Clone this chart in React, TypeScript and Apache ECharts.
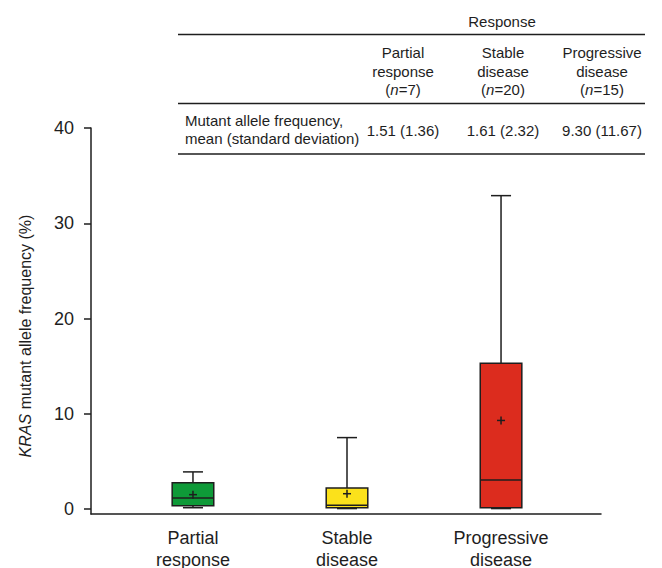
import React, { useEffect, useRef } from "react";
import * as echarts from "echarts";

const categories = ["Partial\nresponse", "Stable\ndisease", "Progressive\ndisease"];
const boxMin = [0.14, 0.05, 0.05];
const boxQ1 = [0.35, 0.14, 0.14];
const boxMedian = [1.15, 0.39, 3.04];
const boxQ3 = [2.76, 2.2, 15.3];
const boxMax = [3.9, 7.5, 32.9];
const boxMean = [1.51, 1.61, 9.3];
const boxColors = ["#0e9a38", "#fbe11b", "#dc2c1e"];

const yTicks = [0, 10, 20, 30, 40];

const tableTitle = "Response";
const tableGroups = ["Partial\nresponse", "Stable\ndisease", "Progressive\ndisease"];
const tableN = [7, 20, 15];
const tableRowLabel = "Mutant allele frequency,\nmean (standard deviation)";
const tableMeanSd = ["1.51 (1.36)", "1.61 (2.32)", "9.30 (11.67)"];

const FONT = "'Liberation Sans', Arial, Helvetica, sans-serif";
const INK = "#1e1e1e";

export default function App() {
  const ref = useRef<HTMLDivElement>(null);

  useEffect(() => {
    document.body.style.margin = "0";
    if (!ref.current) return;
    const chart = echarts.init(ref.current, null, { renderer: "svg" });

    const data = categories.map((_, i) => [
      i,
      boxMin[i],
      boxQ1[i],
      boxMedian[i],
      boxQ3[i],
      boxMax[i],
      boxMean[i],
    ]);

    const colX = [403, 503, 602];
    const tableGraphics: any[] = [
      {
        type: "text",
        x: 502,
        y: 21,
        style: { text: tableTitle, font: `15px ${FONT}`, fill: INK, textAlign: "center", textVerticalAlign: "middle" },
      },
      { type: "line", shape: { x1: 178, y1: 34.5, x2: 645, y2: 34.5 }, style: { stroke: INK, lineWidth: 1.3 } },
      { type: "line", shape: { x1: 178, y1: 103.5, x2: 645, y2: 103.5 }, style: { stroke: INK, lineWidth: 1.3 } },
      { type: "line", shape: { x1: 178, y1: 154, x2: 645, y2: 154 }, style: { stroke: INK, lineWidth: 1.3 } },
      {
        type: "text",
        x: 185,
        y: 129,
        style: {
          text: tableRowLabel,
          fontSize: 15,
          fontFamily: FONT,
          lineHeight: 18,
          fill: INK,
          textAlign: "left",
          textVerticalAlign: "middle",
        },
      },
    ];
    tableGroups.forEach((g, i) => {
      tableGraphics.push({
        type: "text",
        x: colX[i],
        y: 71,
        style: {
          text: g + "\n({i|n}=" + tableN[i] + ")",
          fontSize: 15,
          fontFamily: FONT,
          lineHeight: 18.5,
          fill: INK,
          textAlign: "center",
          textVerticalAlign: "middle",
          rich: { i: { fontStyle: "italic", fontSize: 15, fontFamily: FONT, fill: INK, lineHeight: 18.5 } },
        },
      });
      tableGraphics.push({
        type: "text",
        x: colX[i],
        y: 130,
        style: {
          text: tableMeanSd[i],
          fontSize: 15,
          fontFamily: FONT,
          fill: INK,
          textAlign: "center",
          textVerticalAlign: "middle",
        },
      });
    });

    chart.setOption({
      animation: false,
      backgroundColor: "#ffffff",
      textStyle: { fontFamily: FONT },
      grid: { left: 91, right: 61, top: 128, bottom: 54, containLabel: false, outerBoundsMode: "none" },
      xAxis: {
        type: "value",
        min: -0.662,
        max: 2.649,
        splitLine: { show: false },
        axisLine: { show: true, onZero: false, lineStyle: { color: INK, width: 1.5 } },
        axisTick: { show: false },
        axisLabel: {
          customValues: [0, 1, 2],
          formatter: (v: number) => categories[Math.round(v)] ?? "",
          fontSize: 18,
          lineHeight: 22,
          color: INK,
          margin: 13,
          fontFamily: FONT,
        },
      },
      yAxis: {
        type: "value",
        min: -0.52,
        max: 40,
        splitLine: { show: false },
        axisLine: { show: true, onZero: false, lineStyle: { color: INK, width: 1.5 } },
        axisTick: { show: true, customValues: yTicks, length: 7, lineStyle: { color: INK, width: 1.5 } },
        axisLabel: {
          customValues: yTicks,
          fontSize: 18,
          color: INK,
          margin: 17,
          fontFamily: FONT,
        },
        name: "{i|KRAS} mutant allele frequency (%)",
        nameLocation: "middle",
        nameRotate: 90,
        nameGap: 58,
        nameTextStyle: {
          fontSize: 16,
          color: INK,
          fontFamily: FONT,
          padding: [0, 30, 0, 0],
          rich: { i: { fontStyle: "italic", fontSize: 16, color: INK, fontFamily: FONT } },
        },
      },
      graphic: tableGraphics,
      series: [
        {
          type: "custom",
          clip: false,
          encode: { x: 0, y: [1, 2, 3, 4, 5] },
          data,
          renderItem: (params: any, api: any) => {
            const x = api.value(0);
            const cx = api.coord([x, 0])[0];
            const yMin = api.coord([x, api.value(1)])[1];
            const yQ1 = api.coord([x, api.value(2)])[1];
            const yMed = api.coord([x, api.value(3)])[1];
            const yQ3 = api.coord([x, api.value(4)])[1];
            const yMax = api.coord([x, api.value(5)])[1];
            const yMean = api.coord([x, api.value(6)])[1];
            const bw = api.size([0.27, 0])[0];
            const cw = api.size([0.13, 0])[0];
            const ls = { stroke: INK, lineWidth: 1.5 };
            const color = boxColors[params.dataIndex];
            return {
              type: "group",
              children: [
                { type: "line", shape: { x1: cx, y1: yQ3, x2: cx, y2: yMax }, style: ls },
                { type: "line", shape: { x1: cx - cw / 2, y1: yMax, x2: cx + cw / 2, y2: yMax }, style: ls },
                { type: "line", shape: { x1: cx, y1: yQ1, x2: cx, y2: yMin }, style: ls },
                { type: "line", shape: { x1: cx - cw / 2, y1: yMin, x2: cx + cw / 2, y2: yMin }, style: ls },
                {
                  type: "rect",
                  shape: { x: cx - bw / 2, y: yQ3, width: bw, height: yQ1 - yQ3 },
                  style: { fill: color, stroke: INK, lineWidth: 1.5 },
                },
                { type: "line", shape: { x1: cx - bw / 2, y1: yMed, x2: cx + bw / 2, y2: yMed }, style: ls },
                { type: "line", shape: { x1: cx - 4, y1: yMean, x2: cx + 4, y2: yMean }, style: ls },
                { type: "line", shape: { x1: cx, y1: yMean - 4, x2: cx, y2: yMean + 4 }, style: ls },
              ],
            };
          },
        },
      ],
    });

    return () => chart.dispose();
  }, []);

  return <div ref={ref} style={{ width: 662, height: 568 }} />;
}
